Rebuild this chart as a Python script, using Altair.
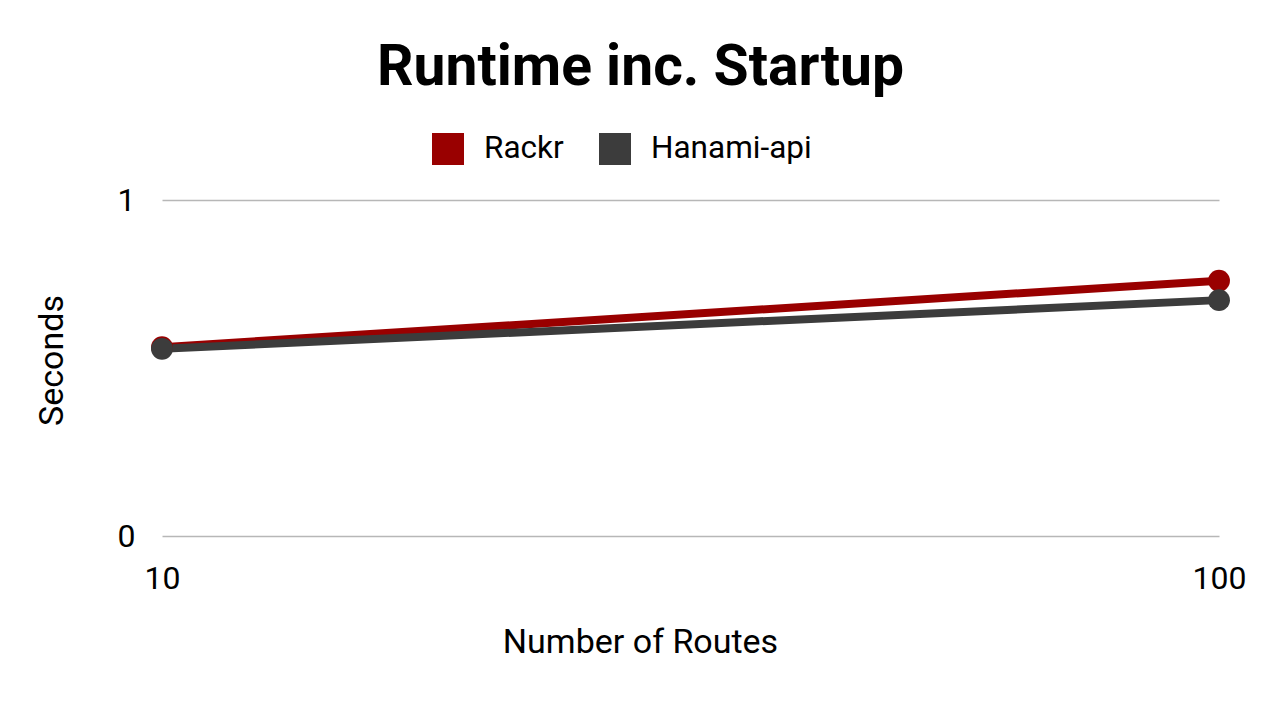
import altair as alt
import pandas as pd

routes = [10, 100]
rackr = [0.562, 0.760]
hanami = [0.557, 0.702]
series = ["Rackr", "Hanami-api"]
colors = ["#990000", "#3c3c3c"]

df = pd.DataFrame({
    "routes": routes * 2,
    "seconds": rackr + hanami,
    "series": [series[0]] * len(routes) + [series[1]] * len(routes),
})

x = alt.X(
    "routes:Q",
    scale=alt.Scale(type="log", domain=[10, 100]),
    axis=alt.Axis(
        values=routes, format="d", title="Number of Routes", grid=False,
        domain=False, ticks=False, labelFlush=False, labelFontSize=32,
        labelPadding=27, titleFontSize=34, titlePadding=31, titleX=478,
        labelColor="#000000", titleColor="#000000", titleFontWeight="normal",
    ),
)
y = alt.Y(
    "seconds:Q",
    scale=alt.Scale(domain=[0, 1]),
    axis=alt.Axis(
        values=[0, 1], format="d", title="Seconds", grid=True, gridColor="#b7b7b7",
        gridWidth=1.3, domain=False, ticks=False, labelFontSize=32,
        labelPadding=27, titleFontSize=34, titlePadding=48, titleY=160,
        labelColor="#000000", titleColor="#000000", titleFontWeight="normal",
    ),
)

base = alt.Chart(df)
lines = base.mark_line(strokeWidth=8).encode(
    x=x, y=y,
    color=alt.Color("series:N", scale=alt.Scale(domain=series, range=colors), legend=None),
)
points = base.mark_point(filled=True, size=480, opacity=1).encode(
    x=x, y=y,
    color=alt.Color(
        "series:N", scale=alt.Scale(domain=series, range=colors),
        legend=alt.Legend(
            title=None, orient="none", legendX=270, legendY=-67,
            direction="horizontal", symbolType="square", symbolSize=1024,
            symbolStrokeWidth=0, labelFontSize=31.5, labelOffset=20,
            labelLimit=400, columnPadding=35, labelColor="#000000", padding=0,
        ),
    ),
)

chart = alt.layer(lines, points).resolve_legend(color="independent").properties(
    width=1057, height=336,
    title=alt.TitleParams(
        "Runtime inc. Startup", fontSize=57, fontWeight="bold", font="Roboto",
        anchor="middle", dx=-50, offset=36, color="#000000",
    ),
    autosize=alt.AutoSizeParams(type="none"),
    padding={"left": 162, "top": 200, "right": 61, "bottom": 184},
).configure(font="Roboto").configure_view(stroke=None)

chart.save("out.html", embed_options={"renderer": "svg", "actions": False})
